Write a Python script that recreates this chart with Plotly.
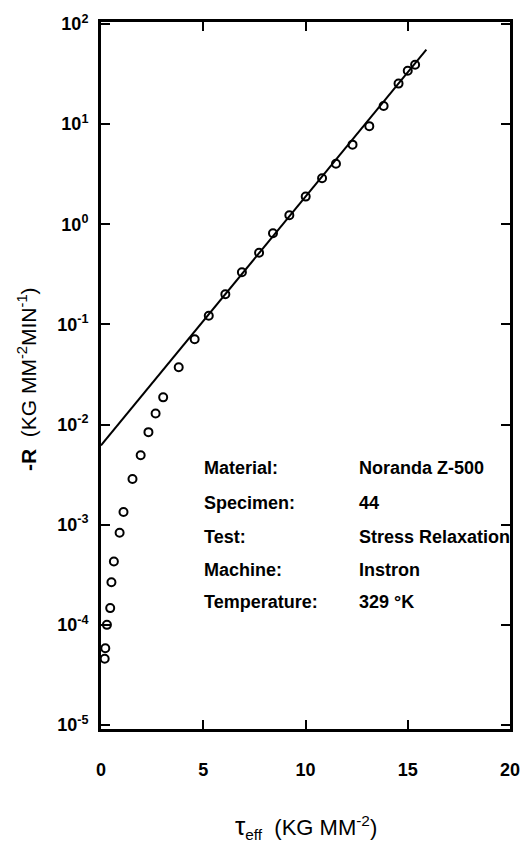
import plotly.graph_objects as go

# Data
tau_eff = [0.18, 0.21, 0.29, 0.45, 0.51, 0.63, 0.91, 1.10, 1.54, 1.94,
           2.32, 2.67, 3.04, 3.80, 4.58, 5.27, 6.08, 6.89, 7.73, 8.41,
           9.21, 10.01, 10.81, 11.49, 12.30, 13.12, 13.82, 14.55, 15.00, 15.36]
neg_R = [4.58e-5, 5.83e-5, 1.0e-4, 1.47e-4, 2.66e-4, 4.29e-4, 8.3e-4, 1.34e-3,
         2.86e-3, 4.93e-3, 8.4e-3, 1.29e-2, 1.87e-2, 3.73e-2, 7.1e-2, 0.122,
         0.200, 0.332, 0.519, 0.813, 1.23, 1.89, 2.88, 4.03, 6.24, 9.55,
         15.2, 25.4, 34.2, 39.2]

fit_tau = [0.0, 15.91]
fit_R = [6.19e-3, 55.5]

x_ticks = [0, 5, 10, 15, 20]
x_ticktext = ["<b>0</b>", "<b>5</b>", "<b>10</b>", "<b>15</b>", "<b>20</b>"]
y_ticks = [1e-5, 1e-4, 1e-3, 1e-2, 1e-1, 1e0, 1e1, 1e2]
y_ticktext = ["<b>10<sup>-5</sup></b>", "<b>10<sup>-4</sup></b>", "<b>10<sup>-3</sup></b>",
              "<b>10<sup>-2</sup></b>", "<b>10<sup>-1</sup></b>", "<b>10<sup>0</sup></b>",
              "<b>10<sup>1</sup></b>", "<b>10<sup>2</sup></b>"]

info_labels = ["Material:", "Specimen:", "Test:", "Machine:", "Temperature:"]
info_values = ["Noranda Z-500", "44", "Stress Relaxation", "Instron", "329 °K"]

FONT = "Liberation Sans"

fig = go.Figure()
fig.add_trace(go.Scatter(x=fit_tau, y=fit_R, mode="lines",
                         line=dict(color="black", width=2), showlegend=False))
fig.add_trace(go.Scatter(x=tau_eff, y=neg_R, mode="markers",
                         marker=dict(symbol="circle-open", size=8, color="black",
                                     line=dict(width=2, color="black")),
                         showlegend=False, cliponaxis=False))

# Info block
row_y = [0.369, 0.319, 0.271, 0.225, 0.180]
for lab, val, yy in zip(info_labels, info_values, row_y):
    fig.add_annotation(text="<b>" + lab + "</b>", xref="paper", yref="paper",
                       x=0.247, y=yy, xanchor="left", yanchor="middle",
                       showarrow=False, font=dict(family=FONT, size=18, color="black"))
    fig.add_annotation(text="<b>" + val + "</b>", xref="paper", yref="paper",
                       x=0.627, y=yy, xanchor="left", yanchor="middle",
                       showarrow=False, font=dict(family=FONT, size=18, color="black"))

# Axis titles
fig.add_annotation(text="<span style='font-size:26px'>τ</span><sub>eff</sub>  (KG MM<sup>-2</sup>)",
                   xref="paper", yref="paper", x=0.5, y=0, xanchor="center",
                   yanchor="middle", yshift=-98, showarrow=False,
                   font=dict(family=FONT, size=22, color="black"))
fig.add_annotation(text="<b>-R</b>  (KG MM<sup>-2</sup>MIN<sup>-1</sup>)",
                   xref="paper", yref="paper", x=0, y=0.495, xanchor="center",
                   yanchor="middle", xshift=-74, textangle=-90, showarrow=False,
                   font=dict(family=FONT, size=21, color="black"))

axis_common = dict(showgrid=False, zeroline=False, showline=True, linecolor="black",
                   linewidth=3, ticks="inside", ticklen=9, tickwidth=2,
                   tickcolor="black", mirror="ticks")

fig.update_xaxes(range=[0, 20], tickvals=x_ticks, ticktext=x_ticktext,
                 tickfont=dict(family=FONT, size=18, color="black"),
                 ticklabelstandoff=22, **axis_common)
fig.update_yaxes(type="log", range=[-5.04, 2.02], tickvals=y_ticks, ticktext=y_ticktext,
                 tickfont=dict(family=FONT, size=18, color="black"),
                 ticklabelstandoff=6, **axis_common)

fig.update_layout(width=532, height=842, margin=dict(l=101, r=18, t=14, b=113),
                  paper_bgcolor="white", plot_bgcolor="white", showlegend=False)

fig.write_html("out.html")
